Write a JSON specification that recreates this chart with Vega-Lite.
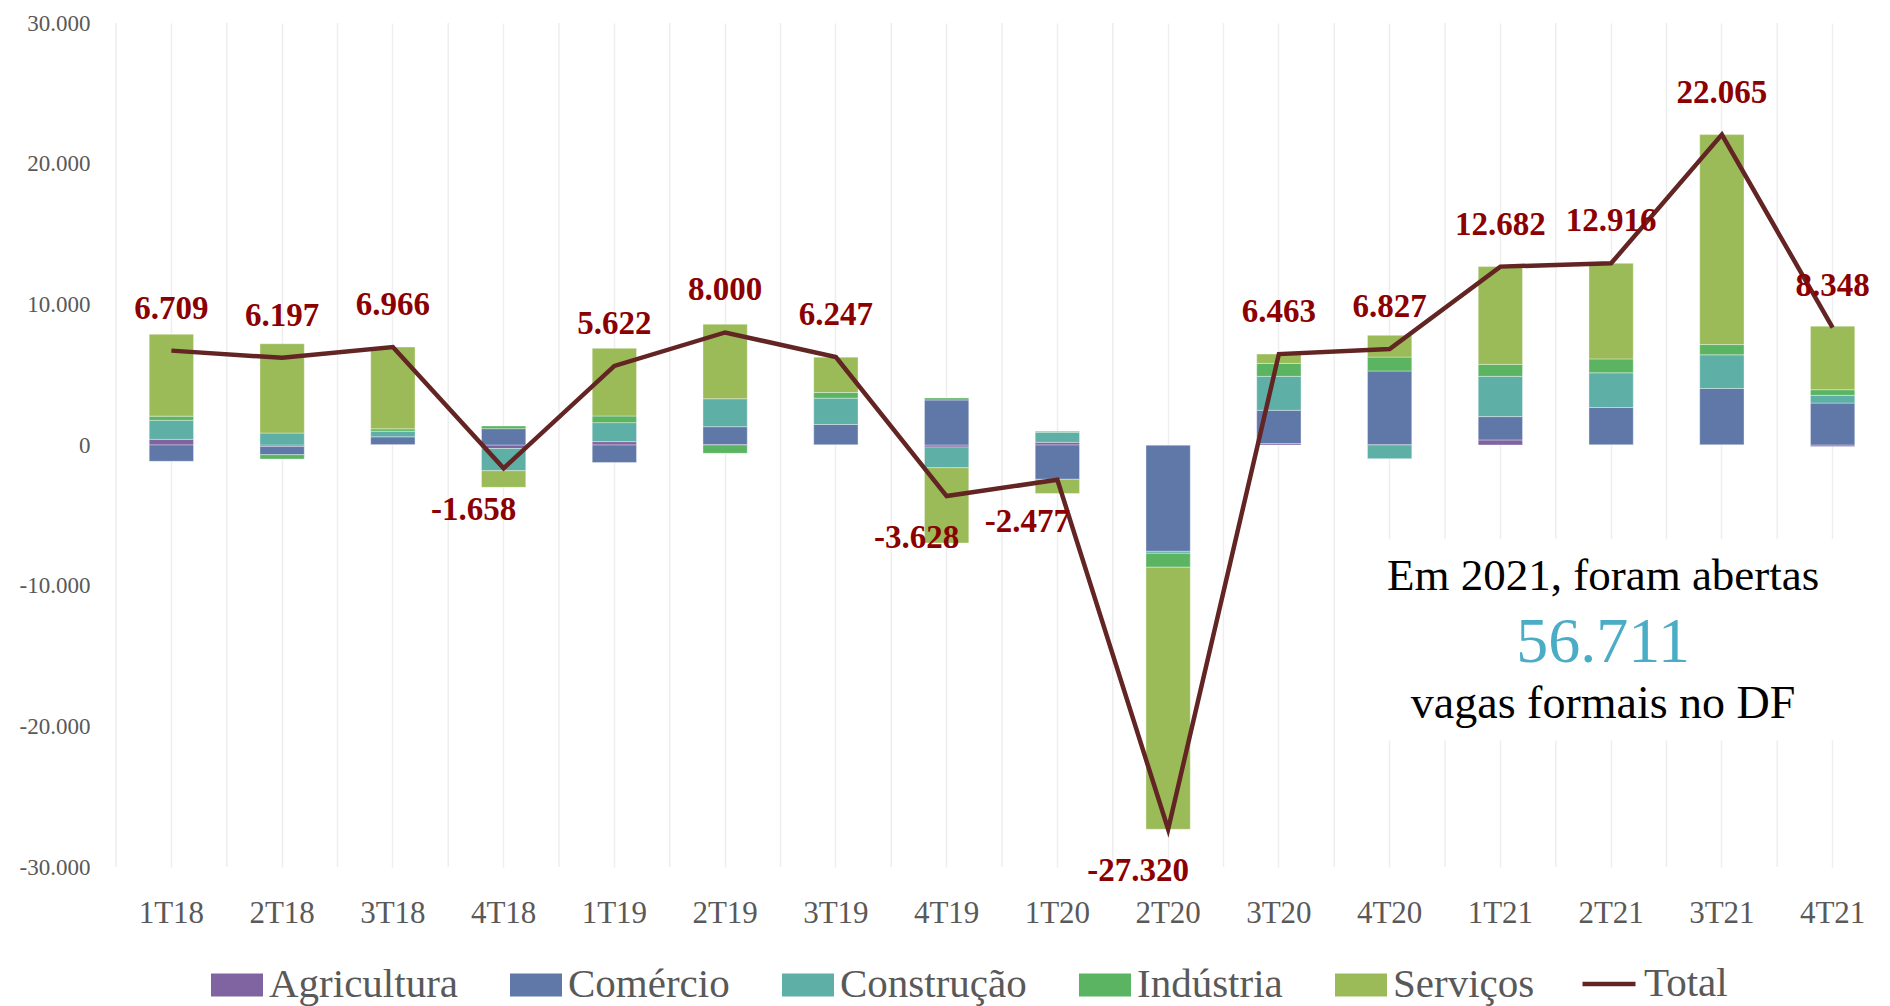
{
  "$schema": "https://vega.github.io/schema/vega-lite/v6.json",
  "width": 1772,
  "height": 844,
  "autosize": {"type": "none"},
  "padding": {"left": 116, "top": 23, "right": 2, "bottom": 139},
  "background": "white",
  "datasets": {
    "sectors": [
      {"quarter": "1T18", "sector": "Agricultura", "value": 400},
      {"quarter": "1T18", "sector": "Comércio", "value": -1160},
      {"quarter": "1T18", "sector": "Construção", "value": 1350},
      {"quarter": "1T18", "sector": "Indústria", "value": 300},
      {"quarter": "1T18", "sector": "Serviços", "value": 5820},
      {"quarter": "2T18", "sector": "Agricultura", "value": -100},
      {"quarter": "2T18", "sector": "Comércio", "value": -590},
      {"quarter": "2T18", "sector": "Construção", "value": 850},
      {"quarter": "2T18", "sector": "Indústria", "value": -310},
      {"quarter": "2T18", "sector": "Serviços", "value": 6350},
      {"quarter": "3T18", "sector": "Agricultura", "value": 30},
      {"quarter": "3T18", "sector": "Comércio", "value": 550},
      {"quarter": "3T18", "sector": "Construção", "value": 400},
      {"quarter": "3T18", "sector": "Indústria", "value": 170},
      {"quarter": "3T18", "sector": "Serviços", "value": 5816},
      {"quarter": "4T18", "sector": "Agricultura", "value": -250},
      {"quarter": "4T18", "sector": "Comércio", "value": 1160},
      {"quarter": "4T18", "sector": "Construção", "value": -1580},
      {"quarter": "4T18", "sector": "Indústria", "value": 190},
      {"quarter": "4T18", "sector": "Serviços", "value": -1180},
      {"quarter": "1T19", "sector": "Agricultura", "value": 240},
      {"quarter": "1T19", "sector": "Comércio", "value": -1250},
      {"quarter": "1T19", "sector": "Construção", "value": 1350},
      {"quarter": "1T19", "sector": "Indústria", "value": 470},
      {"quarter": "1T19", "sector": "Serviços", "value": 4810},
      {"quarter": "2T19", "sector": "Agricultura", "value": 20},
      {"quarter": "2T19", "sector": "Comércio", "value": 1280},
      {"quarter": "2T19", "sector": "Construção", "value": 1990},
      {"quarter": "2T19", "sector": "Indústria", "value": -590},
      {"quarter": "2T19", "sector": "Serviços", "value": 5300},
      {"quarter": "3T19", "sector": "Agricultura", "value": 20},
      {"quarter": "3T19", "sector": "Comércio", "value": 1440},
      {"quarter": "3T19", "sector": "Construção", "value": 1870},
      {"quarter": "3T19", "sector": "Indústria", "value": 400},
      {"quarter": "3T19", "sector": "Serviços", "value": 2517},
      {"quarter": "4T19", "sector": "Agricultura", "value": -150},
      {"quarter": "4T19", "sector": "Comércio", "value": 3200},
      {"quarter": "4T19", "sector": "Construção", "value": -1470},
      {"quarter": "4T19", "sector": "Indústria", "value": 140},
      {"quarter": "4T19", "sector": "Serviços", "value": -5350},
      {"quarter": "1T20", "sector": "Agricultura", "value": 190},
      {"quarter": "1T20", "sector": "Comércio", "value": -2440},
      {"quarter": "1T20", "sector": "Construção", "value": 710},
      {"quarter": "1T20", "sector": "Indústria", "value": 70},
      {"quarter": "1T20", "sector": "Serviços", "value": -1010},
      {"quarter": "2T20", "sector": "Agricultura", "value": -20},
      {"quarter": "2T20", "sector": "Comércio", "value": -7540},
      {"quarter": "2T20", "sector": "Construção", "value": -140},
      {"quarter": "2T20", "sector": "Indústria", "value": -990},
      {"quarter": "2T20", "sector": "Serviços", "value": -18630},
      {"quarter": "3T20", "sector": "Agricultura", "value": 100},
      {"quarter": "3T20", "sector": "Comércio", "value": 2370},
      {"quarter": "3T20", "sector": "Construção", "value": 2410},
      {"quarter": "3T20", "sector": "Indústria", "value": 920},
      {"quarter": "3T20", "sector": "Serviços", "value": 663},
      {"quarter": "4T20", "sector": "Agricultura", "value": 10},
      {"quarter": "4T20", "sector": "Comércio", "value": 5250},
      {"quarter": "4T20", "sector": "Construção", "value": -970},
      {"quarter": "4T20", "sector": "Indústria", "value": 990},
      {"quarter": "4T20", "sector": "Serviços", "value": 1547},
      {"quarter": "1T21", "sector": "Agricultura", "value": 360},
      {"quarter": "1T21", "sector": "Comércio", "value": 1660},
      {"quarter": "1T21", "sector": "Construção", "value": 2860},
      {"quarter": "1T21", "sector": "Indústria", "value": 850},
      {"quarter": "1T21", "sector": "Serviços", "value": 6952},
      {"quarter": "2T21", "sector": "Agricultura", "value": 20},
      {"quarter": "2T21", "sector": "Comércio", "value": 2650},
      {"quarter": "2T21", "sector": "Construção", "value": 2460},
      {"quarter": "2T21", "sector": "Indústria", "value": 990},
      {"quarter": "2T21", "sector": "Serviços", "value": 6796},
      {"quarter": "3T21", "sector": "Agricultura", "value": 20},
      {"quarter": "3T21", "sector": "Comércio", "value": 4000},
      {"quarter": "3T21", "sector": "Construção", "value": 2390},
      {"quarter": "3T21", "sector": "Indústria", "value": 730},
      {"quarter": "3T21", "sector": "Serviços", "value": 14925},
      {"quarter": "4T21", "sector": "Agricultura", "value": -100},
      {"quarter": "4T21", "sector": "Comércio", "value": 2980},
      {"quarter": "4T21", "sector": "Construção", "value": 550},
      {"quarter": "4T21", "sector": "Indústria", "value": 400},
      {"quarter": "4T21", "sector": "Serviços", "value": 4518}
    ],
    "totals": [
      {"quarter": "1T18", "series": "Total", "total": 6709},
      {"quarter": "2T18", "series": "Total", "total": 6197},
      {"quarter": "3T18", "series": "Total", "total": 6966},
      {"quarter": "4T18", "series": "Total", "total": -1658},
      {"quarter": "1T19", "series": "Total", "total": 5622},
      {"quarter": "2T19", "series": "Total", "total": 8000},
      {"quarter": "3T19", "series": "Total", "total": 6247},
      {"quarter": "4T19", "series": "Total", "total": -3628},
      {"quarter": "1T20", "series": "Total", "total": -2477},
      {"quarter": "2T20", "series": "Total", "total": -27320},
      {"quarter": "3T20", "series": "Total", "total": 6463},
      {"quarter": "4T20", "series": "Total", "total": 6827},
      {"quarter": "1T21", "series": "Total", "total": 12682},
      {"quarter": "2T21", "series": "Total", "total": 12916},
      {"quarter": "3T21", "series": "Total", "total": 22065},
      {"quarter": "4T21", "series": "Total", "total": 8348}
    ]
  },
  "encoding": {
    "x": {
      "field": "quarter",
      "type": "nominal",
      "title": null,
      "scale": {
        "domain": ["1T18","2T18","3T18","4T18","1T19","2T19","3T19","4T19","1T20","2T20","3T20","4T20","1T21","2T21","3T21","4T21"],
        "paddingInner": 0.6,
        "paddingOuter": 0.3
      }
    }
  },
  "layer": [
    {
      "data": {"name": "totals"},
      "mark": {"type": "rule", "color": "#eeeeee", "strokeWidth": 1.5},
      "encoding": {
        "x": {"field": "quarter", "type": "nominal", "bandPosition": -0.75, "title": null}
      }
    },
    {
      "data": {"values": [{}]},
      "mark": {"type": "rule", "color": "#d9d9d9", "strokeWidth": 2},
      "encoding": {"y": {"datum": 0, "type": "quantitative", "title": null, "axis": {"values": [-30000, -20000, -10000, 0, 10000, 20000, 30000], "labelOverlap": false}}}
    },
    {
      "data": {"name": "sectors"},
      "mark": {"type": "bar", "stroke": "white", "strokeWidth": 0.6, "strokeOpacity": 0.6},
      "encoding": {
        "y": {
          "field": "value",
          "type": "quantitative",
          "title": null,
          "stack": "zero",
          "scale": {"domain": [-30000, 30000], "nice": false},
          "axis": {"values": [-30000, -20000, -10000, 0, 10000, 20000, 30000], "labelOverlap": false}
        },
        "order": {"field": "sector", "type": "nominal", "sort": "ascending"},
        "fill": {
          "field": "sector",
          "type": "nominal",
          "scale": {
            "domain": ["Agricultura", "Comércio", "Construção", "Indústria", "Serviços"],
            "range": ["#8064A2", "#6078A8", "#5EAFA6", "#5BB462", "#9BBB59"]
          },
          "legend": {
            "orient": "none",
            "legendX": 95,
            "legendY": 936,
            "direction": "horizontal",
            "title": null,
            "labelFont": "Liberation Serif",
            "labelFontSize": 41,
            "labelColor": "#595959",
            "labelOffset": 6,
            "labelLimit": 400,
            "columnPadding": 52,
            "symbolSize": 2704,
            "symbolStrokeWidth": 0,
            "symbolOpacity": 1,
            "symbolType": "M-1,-0.442H1V0.442H-1Z"
          }
        }
      }
    },
    {
      "data": {"values": [{}]},
      "mark": {"type": "rect", "color": "white"},
      "encoding": {
        "x": {"datum": "4T20", "bandPosition": 0.3},
        "x2": {"datum": "4T21", "bandPosition": 1},
        "y": {"datum": -6700, "type": "quantitative", "title": null, "axis": {"values": [-30000, -20000, -10000, 0, 10000, 20000, 30000], "labelOverlap": false}},
        "y2": {"datum": -21000}
      }
    },
    {
      "data": {"values": [{}]},
      "mark": {"type": "text", "font": "Liberation Serif", "fontSize": 45, "color": "black", "baseline": "alphabetic", "dx": -8},
      "encoding": {
        "x": {"datum": "2T21"},
        "y": {"datum": -10300, "type": "quantitative", "title": null, "axis": {"values": [-30000, -20000, -10000, 0, 10000, 20000, 30000], "labelOverlap": false}},
        "text": {"value": "Em 2021, foram abertas"}
      }
    },
    {
      "data": {"values": [{}]},
      "mark": {"type": "text", "font": "Liberation Serif", "fontSize": 64, "color": "#4BACC6", "baseline": "alphabetic", "dx": -8},
      "encoding": {
        "x": {"datum": "2T21"},
        "y": {"datum": -15400, "type": "quantitative", "title": null, "axis": {"values": [-30000, -20000, -10000, 0, 10000, 20000, 30000], "labelOverlap": false}},
        "text": {"value": "56.711"}
      }
    },
    {
      "data": {"values": [{}]},
      "mark": {"type": "text", "font": "Liberation Serif", "fontSize": 46, "color": "black", "baseline": "alphabetic", "dx": -8},
      "encoding": {
        "x": {"datum": "2T21"},
        "y": {"datum": -19400, "type": "quantitative", "title": null, "axis": {"values": [-30000, -20000, -10000, 0, 10000, 20000, 30000], "labelOverlap": false}},
        "text": {"value": "vagas formais no DF"}
      }
    },
    {
      "data": {"name": "totals"},
      "mark": {"type": "line", "strokeWidth": 4.5, "strokeJoin": "miter"},
      "encoding": {
        "y": {"field": "total", "type": "quantitative", "title": null, "axis": {"values": [-30000, -20000, -10000, 0, 10000, 20000, 30000], "labelOverlap": false}},
        "stroke": {
          "field": "series",
          "type": "nominal",
          "scale": {"domain": ["Total"], "range": ["#632523"]},
          "legend": {
            "orient": "none",
            "legendX": 1464,
            "legendY": 932,
            "direction": "horizontal",
            "title": null,
            "labelFont": "Liberation Serif",
            "labelFontSize": 41,
            "labelColor": "#595959",
            "labelOffset": 6,
            "labelLimit": 400,
            "symbolType": "stroke",
            "symbolSize": 2809,
            "symbolStrokeWidth": 4.5,
            "symbolOpacity": 1
          }
        }
      }
    },
    {
      "data": {"name": "totals"},
      "transform": [{"filter": "datum.total >= 0"}],
      "mark": {"type": "text", "font": "Liberation Serif", "fontWeight": "bold", "fontSize": 33, "color": "#8B0000", "baseline": "middle", "dy": -42},
      "encoding": {
        "y": {"field": "total", "type": "quantitative", "title": null, "axis": {"values": [-30000, -20000, -10000, 0, 10000, 20000, 30000], "labelOverlap": false}},
        "text": {"field": "total", "type": "quantitative", "format": ",.0f"}
      }
    },
    {
      "data": {"name": "totals"},
      "transform": [{"filter": "datum.total < 0"}],
      "mark": {"type": "text", "font": "Liberation Serif", "fontWeight": "bold", "fontSize": 33, "color": "#8B0000", "baseline": "middle", "dy": 42, "dx": -30},
      "encoding": {
        "y": {"field": "total", "type": "quantitative", "title": null, "axis": {"values": [-30000, -20000, -10000, 0, 10000, 20000, 30000], "labelOverlap": false}},
        "text": {"field": "total", "type": "quantitative", "format": ",.0f"}
      }
    }
  ],
  "config": {
    "view": {"stroke": null},
    "locale": {
      "number": {"decimal": ",", "thousands": ".", "grouping": [3], "currency": ["R$", ""], "minus": "-"}
    },
    "axis": {"labelOverlap": false},
    "axisX": {
      "labelAngle": 0,
      "labelFont": "Liberation Serif",
      "labelFontSize": 31,
      "labelColor": "#595959",
      "labelPadding": 31,
      "domain": false,
      "ticks": false,
      "grid": true,
      "gridColor": "#eeeeee",
      "gridWidth": 1.5,
      "titleOpacity": 0
    },
    "axisY": {
      "labelFont": "Liberation Serif",
      "labelFontSize": 23,
      "labelColor": "#595959",
      "labelPadding": 26,
      "labelOverlap": false,
      "domain": false,
      "ticks": false,
      "grid": false,
      "titleOpacity": 0
    }
  }
}
